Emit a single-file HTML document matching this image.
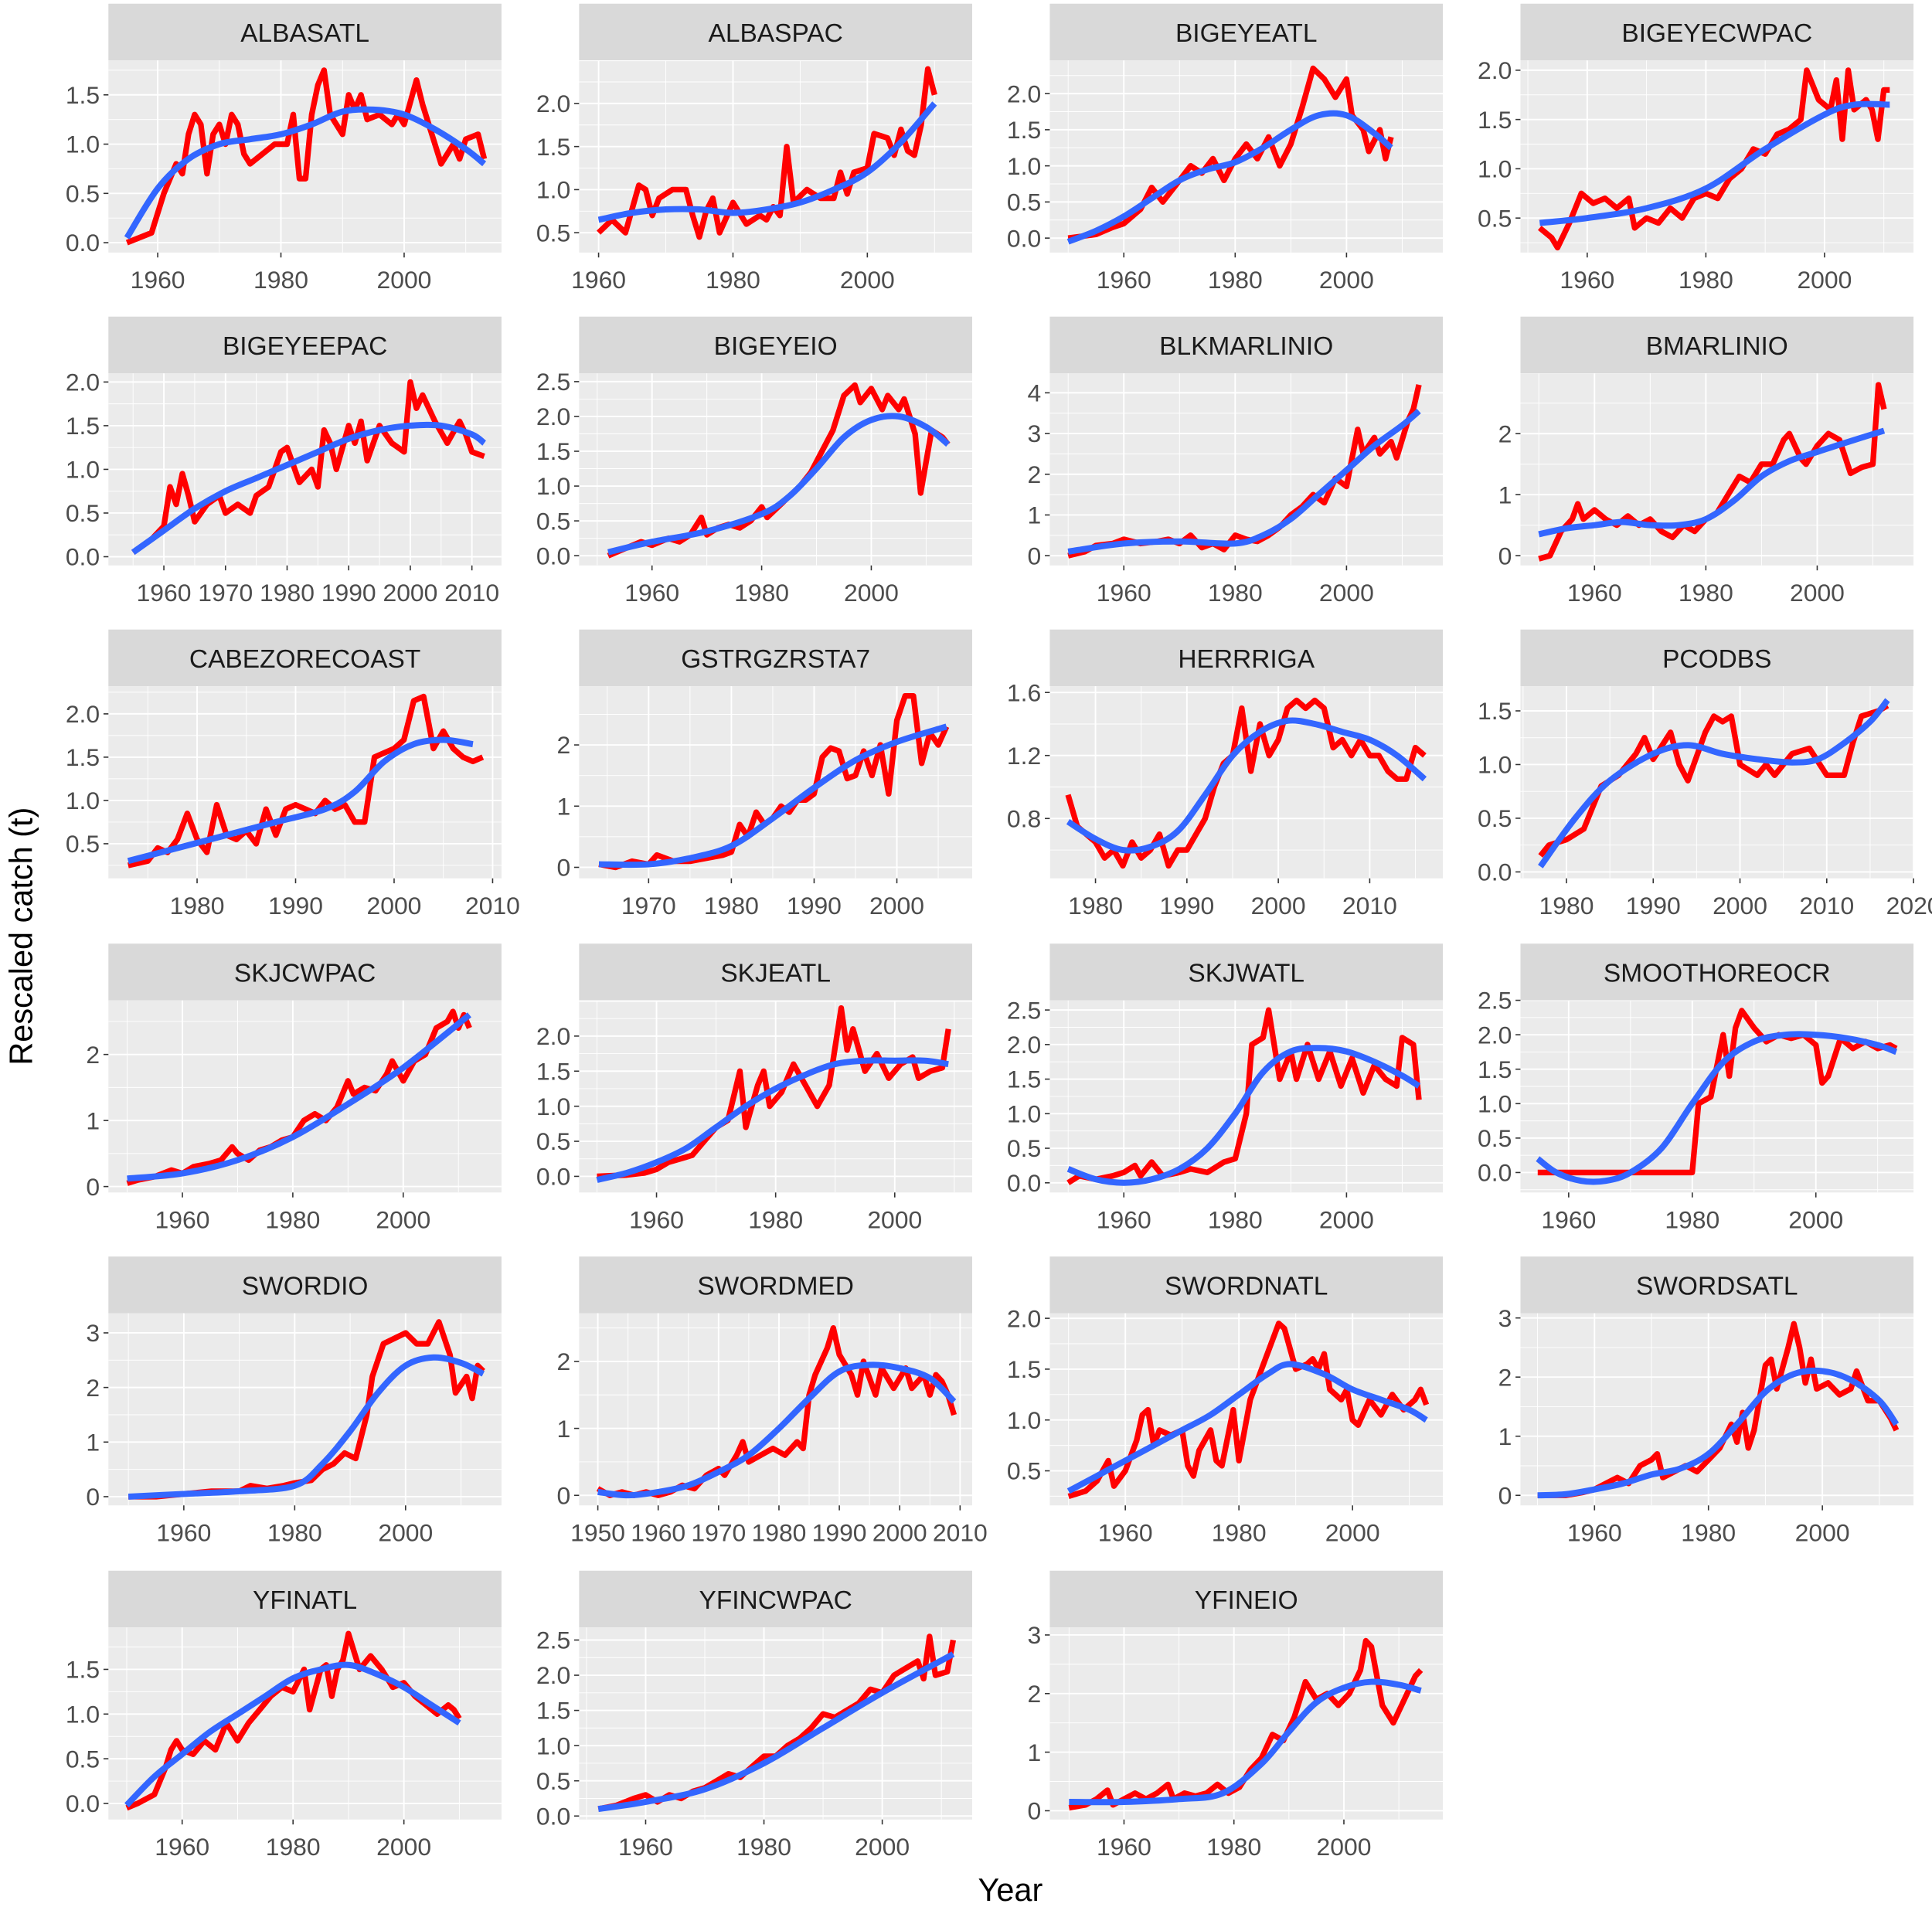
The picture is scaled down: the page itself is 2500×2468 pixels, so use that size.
<!DOCTYPE html>
<html><head><meta charset="utf-8">
<style>
html,body{margin:0;padding:0;background:#fff;}
svg{display:block;}
text{font-family:"Liberation Sans",Arial,sans-serif;}
</style></head>
<body>
<svg id="chart" width="2500" height="2468" viewBox="0 0 1568 1548" preserveAspectRatio="none" xmlns="http://www.w3.org/2000/svg">
<rect x="0" y="0" width="1568" height="1548" fill="#fff"/>
<text x="0" y="0" transform="translate(26,760) rotate(-90)" text-anchor="middle" font-size="26" fill="#000">Rescaled catch (t)</text>
<text x="820" y="1543" text-anchor="middle" font-size="26" fill="#000">Year</text>
</svg>
<script>
const panelNames = ["ALBASATL","ALBASPAC","BIGEYEATL","BIGEYECWPAC","BIGEYEEPAC","BIGEYEIO","BLKMARLINIO","BMARLINIO","CABEZORECOAST","GSTRGZRSTA7","HERRRIGA","PCODBS","SKJCWPAC","SKJEATL","SKJWATL","SMOOTHOREOCR","SWORDIO","SWORDMED","SWORDNATL","SWORDSATL","YFINATL","YFINCWPAC","YFINEIO"];

const xTicks = [[1960,1980,2000],[1960,1980,2000],[1960,1980,2000],[1960,1980,2000],[1960,1970,1980,1990,2000,2010],[1960,1980,2000],[1960,1980,2000],[1960,1980,2000],[1980,1990,2000,2010],[1970,1980,1990,2000],[1980,1990,2000,2010],[1980,1990,2000,2010,2020],[1960,1980,2000],[1960,1980,2000],[1960,1980,2000],[1960,1980,2000],[1960,1980,2000],[1950,1960,1970,1980,1990,2000,2010],[1960,1980,2000],[1960,1980,2000],[1960,1980,2000],[1960,1980,2000],[1960,1980,2000]];

const yTicks = [[0,0.5,1,1.5],[0.5,1,1.5,2],[0,0.5,1,1.5,2],[0.5,1,1.5,2],[0,0.5,1,1.5,2],[0,0.5,1,1.5,2,2.5],[0,1,2,3,4],[0,1,2],[0.5,1,1.5,2],[0,1,2],[0.8,1.2,1.6],[0,0.5,1,1.5],[0,1,2],[0,0.5,1,1.5,2],[0,0.5,1,1.5,2,2.5],[0,0.5,1,1.5,2,2.5],[0,1,2,3],[0,1,2],[0.5,1,1.5,2],[0,1,2,3],[0,0.5,1,1.5],[0,0.5,1,1.5,2,2.5],[0,1,2,3]];

const yTickLabels = [["0.0","0.5","1.0","1.5"],["0.5","1.0","1.5","2.0"],["0.0","0.5","1.0","1.5","2.0"],["0.5","1.0","1.5","2.0"],["0.0","0.5","1.0","1.5","2.0"],["0.0","0.5","1.0","1.5","2.0","2.5"],["0","1","2","3","4"],["0","1","2"],["0.5","1.0","1.5","2.0"],["0","1","2"],["0.8","1.2","1.6"],["0.0","0.5","1.0","1.5"],["0","1","2"],["0.0","0.5","1.0","1.5","2.0"],["0.0","0.5","1.0","1.5","2.0","2.5"],["0.0","0.5","1.0","1.5","2.0","2.5"],["0","1","2","3"],["0","1","2"],["0.5","1.0","1.5","2.0"],["0","1","2","3"],["0.0","0.5","1.0","1.5"],["0.0","0.5","1.0","1.5","2.0","2.5"],["0","1","2","3"]];

const xDomain = [[1952,2015.8],[1957.1,2015.6],[1946.7,2017.3],[1948.75,2015],[1951,2014.8],[1946.7,2018.4],[1946.7,2017.3],[1946.7,2017.3],[1971,2010.9],[1961.6,2009.1],[1975,2018],[1974.7,2020],[1946.6,2017.8],[1947,2013],[1946.7,2017.3],[1952.2,2015.8],[1946.4,2017.3],[1946.9,2012],[1946.7,2015.9],[1947,2016],[1946.7,2017.6],[1948.75,2015.2],[1946.5,2018]];
const yDomain = [[-0.1,1.85],[0.27,2.5],[-0.2,2.46],[0.15,2.1],[-0.1,2.1],[-0.14,2.62],[-0.24,4.48],[-0.16,2.99],[0.1,2.32],[-0.18,2.96],[0.42,1.64],[-0.06,1.73],[-0.09,2.82],[-0.23,2.51],[-0.14,2.64],[-0.29,2.5],[-0.16,3.36],[-0.15,2.72],[0.16,2.05],[-0.17,3.08],[-0.18,1.97],[-0.05,2.68],[-0.15,3.13]];

const red_ALBASATL=[[1955,0],[1957,0.05],[1959,0.1],[1961,0.5],[1963,0.8],[1964,0.7],[1965,1.1],[1966,1.3],[1967,1.2],[1968,0.7],[1969,1.1],[1970,1.2],[1971,1.0],[1972,1.3],[1973,1.2],[1974,0.9],[1975,0.8],[1977,0.9],[1979,1.0],[1981,1.0],[1982,1.3],[1983,0.65],[1984,0.65],[1985,1.3],[1986,1.6],[1987,1.75],[1988,1.3],[1990,1.1],[1991,1.5],[1992,1.35],[1993,1.5],[1994,1.25],[1996,1.3],[1998,1.2],[1999,1.3],[2000,1.2],[2002,1.65],[2003,1.4],[2005,1.0],[2006,0.8],[2008,1.0],[2009,0.85],[2010,1.05],[2012,1.1],[2013,0.85]];
const blue_ALBASATL=[[1955,0.05],[1960,0.55],[1965,0.85],[1970,1.0],[1975,1.05],[1980,1.1],[1985,1.2],[1990,1.33],[1995,1.35],[2000,1.3],[2005,1.15],[2010,0.95],[2013,0.8]];
const red_ALBASPAC=[[1960,0.5],[1962,0.65],[1964,0.5],[1966,1.05],[1967,1.0],[1968,0.7],[1969,0.9],[1971,1.0],[1973,1.0],[1974,0.7],[1975,0.45],[1976,0.75],[1977,0.9],[1978,0.5],[1980,0.85],[1982,0.6],[1984,0.7],[1985,0.65],[1986,0.8],[1987,0.7],[1988,1.5],[1989,0.85],[1991,1.0],[1993,0.9],[1995,0.9],[1996,1.2],[1997,0.95],[1998,1.2],[2000,1.25],[2001,1.65],[2003,1.6],[2004,1.4],[2005,1.7],[2006,1.45],[2007,1.4],[2008,1.75],[2009,2.4],[2010,2.1]];
const blue_ALBASPAC=[[1960,0.65],[1965,0.73],[1970,0.77],[1975,0.77],[1980,0.73],[1985,0.77],[1990,0.85],[1995,1.0],[2000,1.2],[2005,1.55],[2010,2.0]];
const red_BIGEYEATL=[[1950,0],[1955,0.05],[1958,0.15],[1960,0.2],[1963,0.4],[1965,0.7],[1967,0.5],[1970,0.8],[1972,1.0],[1974,0.9],[1976,1.1],[1978,0.8],[1980,1.1],[1982,1.3],[1984,1.1],[1986,1.4],[1988,1.0],[1990,1.3],[1992,1.8],[1994,2.35],[1996,2.2],[1998,1.95],[2000,2.2],[2001,1.7],[2003,1.5],[2004,1.2],[2006,1.5],[2007,1.1],[2008,1.4]];
const blue_BIGEYEATL=[[1950,-0.05],[1955,0.1],[1960,0.3],[1965,0.55],[1970,0.8],[1975,0.95],[1980,1.05],[1985,1.25],[1990,1.5],[1995,1.7],[2000,1.7],[2005,1.45],[2008,1.25]];
const red_BIGEYECWPAC=[[1952,0.4],[1954,0.3],[1955,0.2],[1957,0.45],[1959,0.75],[1961,0.65],[1963,0.7],[1965,0.6],[1967,0.7],[1968,0.4],[1970,0.5],[1972,0.45],[1974,0.6],[1976,0.5],[1978,0.7],[1980,0.75],[1982,0.7],[1984,0.9],[1986,1.0],[1988,1.2],[1990,1.15],[1992,1.35],[1994,1.4],[1996,1.5],[1997,2.0],[1999,1.7],[2001,1.6],[2002,1.9],[2003,1.3],[2004,2.0],[2005,1.6],[2007,1.7],[2008,1.6],[2009,1.3],[2010,1.8],[2011,1.8]];
const blue_BIGEYECWPAC=[[1952,0.45],[1960,0.5],[1970,0.6],[1980,0.8],[1990,1.2],[2000,1.55],[2005,1.65],[2011,1.65]];
const red_BIGEYEEPAC=[[1955,0.05],[1958,0.2],[1960,0.35],[1961,0.8],[1962,0.6],[1963,0.95],[1964,0.7],[1965,0.4],[1967,0.6],[1969,0.7],[1970,0.5],[1972,0.6],[1974,0.5],[1975,0.7],[1977,0.8],[1978,1.0],[1979,1.2],[1980,1.25],[1982,0.85],[1984,1.0],[1985,0.8],[1986,1.45],[1987,1.3],[1988,1.0],[1990,1.5],[1991,1.3],[1992,1.55],[1993,1.1],[1995,1.5],[1997,1.3],[1999,1.2],[2000,2.0],[2001,1.7],[2002,1.85],[2004,1.55],[2006,1.3],[2008,1.55],[2009,1.4],[2010,1.2],[2012,1.15]];
const blue_BIGEYEEPAC=[[1955,0.05],[1960,0.3],[1965,0.55],[1970,0.75],[1975,0.9],[1980,1.05],[1985,1.2],[1990,1.35],[1995,1.45],[2000,1.5],[2005,1.5],[2010,1.4],[2012,1.3]];
const red_BIGEYEIO=[[1952,0],[1955,0.1],[1958,0.2],[1960,0.15],[1963,0.25],[1965,0.2],[1967,0.3],[1969,0.55],[1970,0.3],[1972,0.4],[1974,0.45],[1976,0.4],[1978,0.5],[1980,0.7],[1981,0.55],[1983,0.7],[1985,0.85],[1987,1.0],[1989,1.2],[1991,1.5],[1993,1.8],[1995,2.3],[1997,2.45],[1998,2.2],[2000,2.4],[2002,2.1],[2003,2.3],[2005,2.1],[2006,2.25],[2008,1.75],[2009,0.9],[2011,1.8],[2013,1.7],[2014,1.6]];
const blue_BIGEYEIO=[[1952,0.05],[1960,0.2],[1970,0.35],[1980,0.6],[1985,0.85],[1990,1.25],[1995,1.7],[2000,1.95],[2005,2.0],[2010,1.85],[2014,1.6]];
const red_BLKMARLINIO=[[1950,0],[1953,0.1],[1955,0.25],[1958,0.3],[1960,0.4],[1963,0.3],[1966,0.35],[1968,0.4],[1970,0.3],[1972,0.5],[1974,0.2],[1976,0.3],[1978,0.15],[1980,0.5],[1982,0.4],[1984,0.35],[1986,0.5],[1988,0.7],[1990,1.0],[1992,1.2],[1994,1.5],[1996,1.3],[1998,1.9],[2000,1.7],[2002,3.1],[2003,2.5],[2005,2.9],[2006,2.5],[2008,2.8],[2009,2.4],[2011,3.3],[2012,3.6],[2013,4.2]];
const blue_BLKMARLINIO=[[1950,0.1],[1960,0.3],[1970,0.35],[1980,0.3],[1985,0.5],[1990,0.9],[1995,1.5],[2000,2.1],[2005,2.7],[2010,3.2],[2013,3.55]];
const red_BMARLINIO=[[1950,-0.05],[1952,0],[1954,0.4],[1956,0.6],[1957,0.85],[1958,0.6],[1960,0.75],[1962,0.6],[1964,0.5],[1966,0.65],[1968,0.5],[1970,0.6],[1972,0.4],[1974,0.3],[1976,0.5],[1978,0.4],[1980,0.6],[1982,0.7],[1984,1.0],[1986,1.3],[1988,1.2],[1990,1.5],[1992,1.5],[1994,1.9],[1995,2.0],[1997,1.6],[1998,1.5],[2000,1.8],[2002,2.0],[2004,1.9],[2006,1.35],[2008,1.45],[2010,1.5],[2011,2.8],[2012,2.4]];
const blue_BMARLINIO=[[1950,0.35],[1955,0.45],[1960,0.5],[1965,0.55],[1970,0.5],[1975,0.5],[1980,0.6],[1985,0.9],[1990,1.3],[1995,1.55],[2000,1.7],[2005,1.85],[2012,2.05]];
const red_CABEZORECOAST=[[1973,0.25],[1975,0.3],[1976,0.45],[1977,0.4],[1978,0.55],[1979,0.85],[1980,0.55],[1981,0.4],[1982,0.95],[1983,0.6],[1984,0.55],[1985,0.65],[1986,0.5],[1987,0.9],[1988,0.6],[1989,0.9],[1990,0.95],[1991,0.9],[1992,0.85],[1993,1.0],[1994,0.9],[1995,0.95],[1996,0.75],[1997,0.75],[1998,1.5],[2000,1.6],[2001,1.7],[2002,2.15],[2003,2.2],[2004,1.6],[2005,1.8],[2006,1.6],[2007,1.5],[2008,1.45],[2009,1.5]];
const blue_CABEZORECOAST=[[1973,0.3],[1978,0.45],[1983,0.6],[1988,0.75],[1993,0.9],[1996,1.1],[1999,1.45],[2002,1.65],[2005,1.7],[2008,1.65]];
const red_GSTRGZRSTA7=[[1964,0.05],[1966,0],[1968,0.1],[1970,0.05],[1971,0.2],[1973,0.1],[1975,0.1],[1977,0.15],[1979,0.2],[1980,0.25],[1981,0.7],[1982,0.5],[1983,0.9],[1984,0.7],[1985,0.8],[1986,1.0],[1987,0.9],[1988,1.1],[1989,1.1],[1990,1.2],[1991,1.8],[1992,1.95],[1993,1.9],[1994,1.45],[1995,1.5],[1996,1.9],[1997,1.5],[1998,2.0],[1999,1.2],[2000,2.4],[2001,2.8],[2002,2.8],[2003,1.7],[2004,2.2],[2005,2.0],[2006,2.3]];
const blue_GSTRGZRSTA7=[[1964,0.05],[1970,0.05],[1975,0.15],[1980,0.35],[1985,0.8],[1990,1.3],[1995,1.75],[2000,2.05],[2006,2.3]];
const red_HERRRIGA=[[1977,0.95],[1978,0.75],[1979,0.7],[1980,0.65],[1981,0.55],[1982,0.6],[1983,0.5],[1984,0.65],[1985,0.55],[1986,0.6],[1987,0.7],[1988,0.5],[1989,0.6],[1990,0.6],[1991,0.7],[1992,0.8],[1993,1.0],[1994,1.15],[1995,1.2],[1996,1.5],[1997,1.1],[1998,1.4],[1999,1.2],[2000,1.3],[2001,1.5],[2002,1.55],[2003,1.5],[2004,1.55],[2005,1.5],[2006,1.25],[2007,1.3],[2008,1.2],[2009,1.3],[2010,1.2],[2011,1.2],[2012,1.1],[2013,1.05],[2014,1.05],[2015,1.25],[2016,1.2]];
const blue_HERRRIGA=[[1977,0.78],[1980,0.67],[1983,0.6],[1986,0.62],[1989,0.72],[1992,0.95],[1995,1.2],[1998,1.35],[2001,1.42],[2004,1.4],[2007,1.35],[2010,1.3],[2013,1.2],[2016,1.05]];
const red_PCODBS=[[1977,0.15],[1978,0.25],[1980,0.3],[1982,0.4],[1984,0.8],[1986,0.9],[1988,1.1],[1989,1.25],[1990,1.05],[1992,1.3],[1993,1.0],[1994,0.85],[1996,1.3],[1997,1.45],[1998,1.4],[1999,1.45],[2000,1.0],[2002,0.9],[2003,1.0],[2004,0.9],[2006,1.1],[2008,1.15],[2010,0.9],[2012,0.9],[2013,1.2],[2014,1.45],[2016,1.5],[2017,1.55]];
const blue_PCODBS=[[1977,0.05],[1981,0.5],[1985,0.85],[1990,1.1],[1994,1.18],[1998,1.1],[2002,1.05],[2006,1.02],[2009,1.05],[2012,1.2],[2015,1.4],[2017,1.6]];
const red_SKJCWPAC=[[1950,0.05],[1952,0.1],[1955,0.15],[1958,0.25],[1960,0.2],[1962,0.3],[1965,0.35],[1967,0.4],[1969,0.6],[1970,0.5],[1972,0.4],[1974,0.55],[1976,0.6],[1978,0.7],[1980,0.75],[1982,1.0],[1984,1.1],[1986,1.0],[1988,1.2],[1990,1.6],[1991,1.4],[1993,1.5],[1995,1.45],[1997,1.7],[1998,1.9],[2000,1.6],[2002,1.9],[2004,2.0],[2006,2.4],[2008,2.5],[2009,2.65],[2010,2.4],[2011,2.6],[2012,2.4]];
const blue_SKJCWPAC=[[1950,0.12],[1960,0.2],[1970,0.4],[1980,0.75],[1990,1.25],[2000,1.8],[2012,2.6]];
const red_SKJEATL=[[1950,0],[1955,0.02],[1958,0.05],[1960,0.1],[1962,0.2],[1964,0.25],[1966,0.3],[1968,0.5],[1970,0.7],[1972,0.8],[1974,1.5],[1975,0.7],[1977,1.3],[1978,1.5],[1979,1.0],[1981,1.2],[1983,1.6],[1985,1.3],[1987,1.0],[1989,1.3],[1991,2.4],[1992,1.8],[1993,2.1],[1995,1.5],[1997,1.75],[1999,1.4],[2001,1.6],[2003,1.7],[2004,1.4],[2006,1.5],[2008,1.55],[2009,2.1]];
const blue_SKJEATL=[[1950,-0.05],[1955,0.05],[1960,0.2],[1965,0.4],[1970,0.7],[1975,1.0],[1980,1.25],[1985,1.45],[1990,1.6],[1995,1.65],[2000,1.65],[2005,1.65],[2009,1.6]];
const red_SKJWATL=[[1950,0],[1952,0.1],[1955,0.05],[1958,0.1],[1960,0.15],[1962,0.25],[1963,0.1],[1965,0.3],[1967,0.1],[1970,0.15],[1972,0.2],[1975,0.15],[1978,0.3],[1980,0.35],[1982,1.0],[1983,2.0],[1985,2.1],[1986,2.5],[1987,2.0],[1988,1.5],[1990,1.9],[1991,1.5],[1993,2.0],[1995,1.5],[1997,1.9],[1999,1.4],[2001,1.8],[2003,1.3],[2005,1.7],[2007,1.5],[2009,1.4],[2010,2.1],[2012,2.0],[2013,1.2]];
const blue_SKJWATL=[[1950,0.2],[1955,0.05],[1960,0],[1965,0.05],[1970,0.2],[1975,0.5],[1980,1.0],[1985,1.6],[1990,1.9],[1995,1.95],[2000,1.9],[2005,1.75],[2010,1.55],[2013,1.4]];
const red_SMOOTHOREOCR=[[1955,0],[1960,0],[1965,0],[1970,0],[1975,0],[1980,0],[1981,1.0],[1983,1.1],[1985,2.0],[1986,1.4],[1987,2.1],[1988,2.35],[1990,2.1],[1992,1.9],[1994,2.0],[1996,1.95],[1998,2.0],[2000,1.85],[2001,1.3],[2002,1.4],[2004,1.95],[2006,1.8],[2008,1.9],[2010,1.8],[2012,1.85],[2013,1.8]];
const blue_SMOOTHOREOCR=[[1955,0.2],[1958,0],[1962,-0.12],[1966,-0.12],[1970,0],[1975,0.35],[1980,1.0],[1985,1.6],[1990,1.9],[1995,2.0],[2000,2.0],[2005,1.95],[2010,1.85],[2013,1.75]];
const red_SWORDIO=[[1950,0],[1955,0],[1960,0.05],[1965,0.1],[1970,0.1],[1972,0.2],[1975,0.15],[1978,0.2],[1980,0.25],[1983,0.3],[1985,0.5],[1987,0.6],[1989,0.8],[1991,0.7],[1993,1.5],[1994,2.2],[1996,2.8],[1998,2.9],[2000,3.0],[2002,2.8],[2004,2.8],[2006,3.2],[2008,2.6],[2009,1.9],[2011,2.2],[2012,1.8],[2013,2.4],[2014,2.3]];
const blue_SWORDIO=[[1950,0],[1960,0.05],[1970,0.1],[1980,0.2],[1985,0.6],[1990,1.2],[1995,1.9],[2000,2.4],[2005,2.55],[2010,2.45],[2014,2.25]];
const red_SWORDMED=[[1950,0.1],[1952,0],[1954,0.05],[1956,0],[1958,0.05],[1960,0],[1962,0.05],[1964,0.15],[1966,0.1],[1968,0.3],[1970,0.4],[1971,0.3],[1973,0.6],[1974,0.8],[1975,0.5],[1977,0.6],[1979,0.7],[1981,0.6],[1983,0.8],[1984,0.7],[1985,1.5],[1986,1.8],[1988,2.2],[1989,2.5],[1990,2.1],[1992,1.8],[1993,1.5],[1994,2.0],[1996,1.5],[1997,1.9],[1999,1.6],[2001,1.9],[2002,1.6],[2004,1.8],[2005,1.5],[2006,1.8],[2007,1.7],[2008,1.5],[2009,1.2]];
const blue_SWORDMED=[[1950,0.05],[1955,0],[1960,0.05],[1965,0.15],[1970,0.35],[1975,0.6],[1980,1.0],[1985,1.45],[1990,1.85],[1995,1.95],[2000,1.9],[2005,1.75],[2009,1.4]];
const red_SWORDNATL=[[1950,0.25],[1953,0.3],[1955,0.4],[1957,0.6],[1958,0.35],[1960,0.5],[1962,0.8],[1963,1.05],[1964,1.1],[1965,0.75],[1966,0.9],[1968,0.85],[1970,0.9],[1971,0.55],[1972,0.45],[1973,0.7],[1975,0.9],[1976,0.6],[1977,0.55],[1979,1.1],[1980,0.6],[1982,1.2],[1984,1.5],[1986,1.8],[1987,1.95],[1988,1.9],[1990,1.5],[1992,1.55],[1993,1.6],[1994,1.5],[1995,1.65],[1996,1.3],[1998,1.2],[1999,1.3],[2000,1.0],[2001,0.95],[2003,1.2],[2005,1.05],[2007,1.25],[2009,1.1],[2011,1.2],[2012,1.3],[2013,1.15]];
const blue_SWORDNATL=[[1950,0.3],[1955,0.45],[1960,0.6],[1965,0.75],[1970,0.9],[1975,1.05],[1980,1.25],[1985,1.45],[1989,1.55],[1995,1.45],[2000,1.3],[2005,1.2],[2010,1.1],[2013,1.0]];
const red_SWORDSATL=[[1950,0],[1955,0],[1958,0.05],[1960,0.1],[1962,0.2],[1964,0.3],[1966,0.2],[1968,0.5],[1970,0.6],[1971,0.7],[1972,0.3],[1974,0.4],[1976,0.5],[1978,0.4],[1980,0.6],[1982,0.8],[1984,1.2],[1985,0.9],[1986,1.4],[1987,0.8],[1988,1.1],[1990,2.2],[1991,2.3],[1992,1.8],[1994,2.5],[1995,2.9],[1996,2.5],[1997,1.9],[1998,2.3],[1999,1.8],[2001,1.9],[2003,1.7],[2005,1.8],[2006,2.1],[2008,1.6],[2010,1.6],[2012,1.3],[2013,1.1]];
const blue_SWORDSATL=[[1950,0],[1955,0.02],[1960,0.1],[1965,0.2],[1970,0.35],[1975,0.45],[1980,0.7],[1985,1.2],[1990,1.75],[1995,2.05],[2000,2.1],[2005,1.95],[2010,1.6],[2013,1.2]];
const red_YFINATL=[[1950,-0.05],[1952,0],[1955,0.1],[1957,0.4],[1958,0.6],[1959,0.7],[1960,0.6],[1962,0.55],[1964,0.7],[1966,0.6],[1968,0.9],[1970,0.7],[1972,0.9],[1974,1.05],[1976,1.2],[1978,1.3],[1980,1.25],[1982,1.5],[1983,1.05],[1985,1.5],[1986,1.55],[1987,1.2],[1988,1.5],[1989,1.6],[1990,1.9],[1992,1.5],[1994,1.65],[1996,1.5],[1998,1.3],[2000,1.35],[2002,1.2],[2004,1.1],[2006,1.0],[2008,1.1],[2009,1.05],[2010,0.95]];
const blue_YFINATL=[[1950,-0.02],[1955,0.3],[1960,0.55],[1965,0.8],[1970,1.0],[1975,1.2],[1980,1.4],[1985,1.5],[1990,1.55],[1995,1.45],[2000,1.3],[2005,1.1],[2010,0.9]];
const red_YFINCWPAC=[[1952,0.1],[1955,0.15],[1958,0.25],[1960,0.3],[1962,0.2],[1964,0.3],[1966,0.25],[1968,0.35],[1970,0.4],[1972,0.5],[1974,0.6],[1976,0.55],[1978,0.7],[1980,0.85],[1982,0.85],[1984,1.0],[1986,1.1],[1988,1.25],[1990,1.45],[1992,1.4],[1994,1.5],[1996,1.6],[1998,1.8],[2000,1.75],[2002,2.0],[2004,2.1],[2006,2.2],[2007,1.95],[2008,2.55],[2009,2.0],[2011,2.05],[2012,2.5]];
const blue_YFINCWPAC=[[1952,0.1],[1960,0.2],[1970,0.38],[1980,0.75],[1990,1.25],[2000,1.75],[2012,2.3]];
const red_YFINEIO=[[1950,0.05],[1953,0.1],[1955,0.2],[1957,0.35],[1958,0.1],[1960,0.2],[1962,0.3],[1964,0.2],[1966,0.3],[1968,0.45],[1969,0.2],[1971,0.3],[1973,0.25],[1975,0.3],[1977,0.45],[1979,0.3],[1981,0.4],[1983,0.7],[1985,0.9],[1987,1.3],[1989,1.2],[1991,1.6],[1993,2.2],[1995,1.9],[1997,2.0],[1999,1.8],[2001,2.0],[2003,2.4],[2004,2.9],[2005,2.8],[2007,1.8],[2009,1.5],[2011,1.9],[2013,2.3],[2014,2.4]];
const blue_YFINEIO=[[1950,0.15],[1960,0.15],[1970,0.2],[1978,0.3],[1985,0.8],[1990,1.35],[1995,1.85],[2000,2.1],[2005,2.2],[2010,2.15],[2014,2.05]];

const redSeries=[red_ALBASATL,red_ALBASPAC,red_BIGEYEATL,red_BIGEYECWPAC,red_BIGEYEEPAC,red_BIGEYEIO,red_BLKMARLINIO,red_BMARLINIO,red_CABEZORECOAST,red_GSTRGZRSTA7,red_HERRRIGA,red_PCODBS,red_SKJCWPAC,red_SKJEATL,red_SKJWATL,red_SMOOTHOREOCR,red_SWORDIO,red_SWORDMED,red_SWORDNATL,red_SWORDSATL,red_YFINATL,red_YFINCWPAC,red_YFINEIO];
const blueSeries=[blue_ALBASATL,blue_ALBASPAC,blue_BIGEYEATL,blue_BIGEYECWPAC,blue_BIGEYEEPAC,blue_BIGEYEIO,blue_BLKMARLINIO,blue_BMARLINIO,blue_CABEZORECOAST,blue_GSTRGZRSTA7,blue_HERRRIGA,blue_PCODBS,blue_SKJCWPAC,blue_SKJEATL,blue_SKJWATL,blue_SMOOTHOREOCR,blue_SWORDIO,blue_SWORDMED,blue_SWORDNATL,blue_SWORDSATL,blue_YFINATL,blue_YFINCWPAC,blue_YFINEIO];

const NS="http://www.w3.org/2000/svg";
const svg=document.getElementById('chart');
const colLeft=[88,470,852,1234], panelW=319;
const rowTop=[3,257,511,766,1020,1275], stripH=46, plotH=156;

function mk(tag,attrs,parent){const e=document.createElementNS(NS,tag);for(const k in attrs)e.setAttribute(k,attrs[k]);parent.appendChild(e);return e;}
function smoothPath(pts){
  let d='M'+pts[0][0].toFixed(1)+','+pts[0][1].toFixed(1);
  for(let k=0;k<pts.length-1;k++){
    const p0=pts[k-1]||pts[k],p1=pts[k],p2=pts[k+1],p3=pts[k+2]||p2;
    const c1x=p1[0]+(p2[0]-p0[0])/6,c1y=p1[1]+(p2[1]-p0[1])/6;
    const c2x=p2[0]-(p3[0]-p1[0])/6,c2y=p2[1]-(p3[1]-p1[1])/6;
    d+=' C'+c1x.toFixed(1)+','+c1y.toFixed(1)+' '+c2x.toFixed(1)+','+c2y.toFixed(1)+' '+p2[0].toFixed(1)+','+p2[1].toFixed(1);
  }
  return d;
}

panelNames.forEach((name,i)=>{
  const col=i%4,row=Math.floor(i/4);
  const L=colLeft[col],T=rowTop[row]+stripH,B=T+plotH,R=L+panelW;
  const g=mk('g',{},svg);
  
  
  const [xmin,xmax]=xDomain[i],[ymin,ymax]=yDomain[i];
  const sx=v=>L+(v-xmin)/(xmax-xmin)*panelW;
  const sy=v=>B-(v-ymin)/(ymax-ymin)*plotH;
  const strip=mk('rect',{x:L,y:rowTop[row],width:panelW,height:stripH,fill:'#D9D9D9'},g);
  
  
  const st=mk('text',{x:L+panelW/2,y:rowTop[row]+31,'text-anchor':'middle','font-size':21,fill:'#1A1A1A'},g);
  st.textContent=name;
  
  
  const bg=mk('rect',{x:L,y:T,width:panelW,height:plotH,fill:'#EBEBEB'},g);
  
  
  const cp=mk('clipPath',{id:'clip'+i},g);
  mk('rect',{x:L,y:T,width:panelW,height:plotH},cp);
  const grid=mk('g',{'clip-path':'url(#clip'+i+')'},g);
  
  
  const xt=xTicks[i],yt=yTicks[i];
  const xs=xt[1]-xt[0],ys=yt[1]-yt[0];
  for(let v=xt[0]-3*xs;v<=xmax+xs;v+=xs){
    mk('line',{x1:sx(v),x2:sx(v),y1:T,y2:B,stroke:'#fff','stroke-width':1.2},grid);
    mk('line',{x1:sx(v+xs/2),x2:sx(v+xs/2),y1:T,y2:B,stroke:'#fff','stroke-width':0.6},grid);
  }
  for(let v=yt[0]-3*ys;v<=ymax+ys;v+=ys){
    mk('line',{x1:L,x2:R,y1:sy(v),y2:sy(v),stroke:'#fff','stroke-width':1.2},grid);
    mk('line',{x1:L,x2:R,y1:sy(v+ys/2),y2:sy(v+ys/2),stroke:'#fff','stroke-width':0.6},grid);
  }
  xt.forEach(v=>{
    mk('line',{x1:sx(v),x2:sx(v),y1:B,y2:B+4,stroke:'#333','stroke-width':1},g);
    const t=mk('text',{x:sx(v),y:B+29,'text-anchor':'middle','font-size':20,fill:'#4D4D4D'},g);
    t.textContent=String(v);
    
    
  });
  yt.forEach((v,k)=>{
    mk('line',{x1:L-4,x2:L,y1:sy(v),y2:sy(v),stroke:'#333','stroke-width':1},g);
    const t=mk('text',{x:L-7,y:sy(v)+7,'text-anchor':'end','font-size':20,fill:'#4D4D4D'},g);
    t.textContent=yTickLabels[i][k];
    
    
  });
  const lines=mk('g',{'clip-path':'url(#clip'+i+')'},g);
  const rp=mk('polyline',{points:redSeries[i].map(d=>sx(d[0]).toFixed(1)+','+sy(d[1]).toFixed(1)).join(' '),fill:'none',stroke:'#FF0000','stroke-width':4.6,'stroke-linejoin':'round'},lines);
  
  
  const bp=mk('path',{d:smoothPath(blueSeries[i].map(d=>[sx(d[0]),sy(d[1])])),fill:'none',stroke:'#3366FF','stroke-width':5,'stroke-linejoin':'round'},lines);
  
  
});
</script>
</body></html>
